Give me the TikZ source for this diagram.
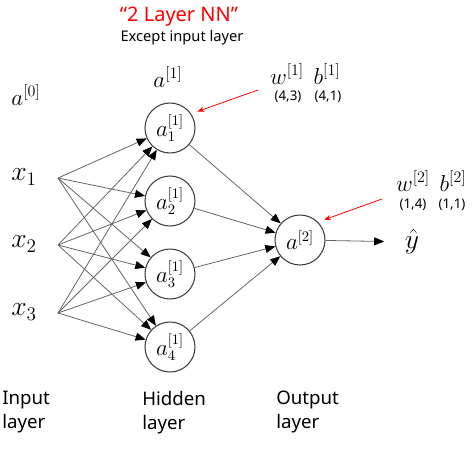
\documentclass[tikz,border=0pt]{standalone}
\usepackage{fontspec}
\setmainfont{Noto Sans}
\usepackage{amsmath}
\usepackage{tikz}
\usetikzlibrary{arrows.meta}

\begin{document}
\begin{tikzpicture}[x=0.75pt, y=-0.75pt, neuron/.style={circle, draw=black!75, line width=0.8pt, minimum size=37.5pt, inner sep=0pt, font=\fontsize{16}{18}\selectfont}, link/.style={draw=black!60, line width=0.6pt, -{Triangle[black, length=7.5pt, width=6pt]}}, note/.style={draw=red, line width=0.6pt, -{Stealth[red, length=5pt, width=4pt]}, shorten >=5pt}, sym/.style={font=\fontsize{17}{19}\selectfont}, dims/.style={font=\fontsize{10}{12}\selectfont}, caption/.style={anchor=north west, align=left, inner sep=0pt, font=\fontsize{14}{18}\selectfont}]
  \useasboundingbox (0,0) rectangle (474,455);
  \node[text=red, font=\fontsize{15}{18}\selectfont] (title) at (179,17) {“2 Layer NN”};
  \node[font=\fontsize{11}{13}\selectfont] (except) at (182,38) {Except input layer};
  \node[sym] (a0) at (26,95) {$a^{[0]}$};
  \node[sym] (a1) at (168,77) {$a^{[1]}$};
  \node[sym] (w1) at (287,74) {$w^{[1]}$};
  \node[sym] (b1) at (327,74) {$b^{[1]}$};
  \node[dims] (dw1) at (288,97) {(4,3)};
  \node[dims] (db1) at (328,97) {(4,1)};
  \node[sym] (w2) at (413,181) {$w^{[2]}$};
  \node[sym] (b2) at (453,181) {$b^{[2]}$};
  \node[dims] (dw2) at (413,205) {(1,4)};
  \node[dims] (db2) at (452,205) {(1,1)};
  \node[font=\fontsize{21}{24}\selectfont] (x1) at (24,177) {$x_1$};
  \node[font=\fontsize{21}{24}\selectfont] (x2) at (24,244) {$x_2$};
  \node[font=\fontsize{21}{24}\selectfont] (x3) at (24,312) {$x_3$};
  \coordinate (i1) at (58,178);
  \coordinate (i2) at (58,245);
  \coordinate (i3) at (58,313);
  \node[neuron] (h1) at (170,128) {$a^{[1]}_1$};
  \node[neuron] (h2) at (170,201) {$a^{[1]}_2$};
  \node[neuron] (h3) at (170,274) {$a^{[1]}_3$};
  \node[neuron] (h4) at (170,347) {$a^{[1]}_4$};
  \node[neuron] (out) at (300,240) {$a^{[2]}$};
  \node[font=\fontsize{21}{24}\selectfont] (yhat) at (412,242) {$\hat{y}$};
  \foreach \i in {1,2,3}
    \foreach \h in {1,2,3,4}
      \draw[link] (i\i) -- (h\h);
  \foreach \h in {1,2,3,4}
    \draw[link] (h\h) -- (out);
  \draw[link, shorten >=12pt] (out) -- (yhat);
  \coordinate (n1) at (258,90);
  \coordinate (n2) at (382,199);
  \draw[note] (n1) -- (h1.34);
  \draw[note] (n2) -- (out.45);
  \node[caption] (inl) at (2,391) {Input\\layer};
  \node[caption] (hidl) at (142,391) {Hidden\\layer};
  \node[caption] (outl) at (276,391) {Output\\layer};
\end{tikzpicture}
\end{document}
